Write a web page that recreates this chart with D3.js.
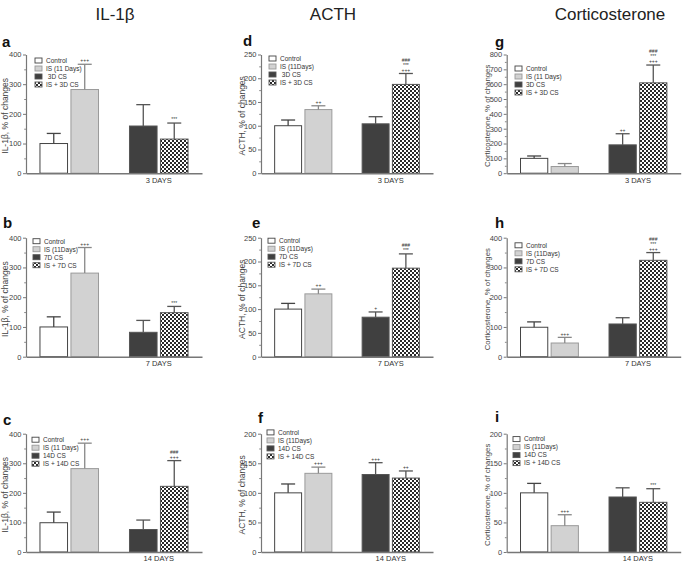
<!DOCTYPE html>
<html><head><meta charset="utf-8">
<script src="https://cdn.jsdelivr.net/npm/d3@7"></script>
<style>body{margin:0;background:#fff}svg{display:block;font-family:"Liberation Sans",Arial,sans-serif}</style>
</head><body><svg id="chart" width="684" height="562"></svg>
<script>
// ---------- DATA ----------
const columnTitles = ["IL-1β", "ACTH", "Corticosterone"];
const yAxisLabels = ["IL-1β, % of changes", "ACTH, % of changes", "Corticosterone, % of changes"];
const panelLetters = [["a", "b", "c"], ["d", "e", "f"], ["g", "h", "i"]];
const dayLabels = ["3 DAYS", "7 DAYS", "14 DAYS"];
const groups = ["Control", "IS", "CS", "IS+CS"];
const yMax = [[400, 400, 400], [250, 250, 200], [800, 400, 200]];
const yStep = [[100, 100, 100], [50, 50, 50], [100, 100, 50]];

const il1bMeans = [[100, 282, 159, 115], [100, 281, 82, 148], [99, 282, 76, 222]];
const il1bErrors = [[34, 85, 72, 54], [34, 86, 40, 21], [36, 86, 32, 87]];
const acthMeans = [[100, 134, 104, 187], [100, 132, 83, 186], [100, 133, 131, 125]];
const acthErrors = [[12, 8, 15, 23], [12, 10, 11, 30], [15, 10.5, 20, 12]];
const corticoMeans = [[100, 45, 191, 609], [99, 46, 110, 324], [100, 44.5, 93, 84]];
const corticoErrors = [[16, 20, 75, 120], [18, 19, 21, 26], [16, 18.5, 15.5, 23]];

const il1bLegend = [
  ["Control", "IS (11 Days)", " 3D CS", "IS + 3D CS"],
  ["Control", "IS (11Days)", "7D CS", "IS + 7D CS"],
  ["Control", "IS (11 Days)", "14D CS", "IS + 14D CS"]];
const acthLegend = [
  ["Control", "IS (11Days)", " 3D CS", "IS + 3D CS"],
  ["Control", "IS (11Days)", "7D CS", "IS + 7D CS"],
  ["Control", "IS (11Days)", "14D CS", "IS + 14D CS"]];
const corticoLegend = [
  ["Control", "IS (11 Days)", "3D CS", "IS + 3D CS"],
  ["Control", "IS (11Days)", "7D CS", "IS + 7D CS"],
  ["Control", "IS (11Days)", "14D CS", "IS + 14D CS"]];

const il1bMarks = [
  [[], ["+++"], [], ["***"]],
  [[], ["+++"], [], ["***"]],
  [[], ["+++"], [], ["###", "+++"]]];
const acthMarks = [
  [[], ["++"], [], ["###", "***", "+++"]],
  [[], ["++"], ["+"], ["###", "***"]],
  [[], ["+++"], ["+++"], ["++"]]];
const corticoMarks = [
  [[], [], ["++"], ["###", "***", "+++"]],
  [[], ["+++"], [], ["###", "***", "+++"]],
  [[], ["+++"], [], ["***"]]];

const means = [il1bMeans, acthMeans, corticoMeans];
const errors = [il1bErrors, acthErrors, corticoErrors];
const legends = [il1bLegend, acthLegend, corticoLegend];
const marks = [il1bMarks, acthMarks, corticoMarks];

// ---------- LAYOUT ----------
const colAxisX = [26, 261, 506.7];
const plotW = [176, 172, 174];
const titleX = [115, 333, 610];
const yLabelX = [8, 245, 490];
const yLabelSize = [8.5, 8.5, 7.8];
const rowTop = [54.5, 237.7, 433.7];
const rowBottom = [173.2, 356.7, 552];
const letterPos = [
  [[2, 47], [3, 228], [3, 425]],
  [[243, 46], [252, 228], [258, 423]],
  [[495, 47], [495, 228], [495, 422]]];
const legendOff = [
  [[9, 6], [7, 3.5], [6, 6]],
  [[8, 4], [7, 3], [6, -1.3]],
  [[8.3, 14], [8.3, 7.6], [6.3, 5.4]]];

const svg = d3.select("#chart");
const defs = svg.append("defs");
const pat = defs.append("pattern").attr("id", "checker").attr("patternUnits", "userSpaceOnUse")
  .attr("width", 4).attr("height", 4);
pat.append("rect").attr("width", 4).attr("height", 4).attr("fill", "#fff");
pat.append("rect").attr("width", 2).attr("height", 2).attr("fill", "#2a2a2a");
pat.append("rect").attr("x", 2).attr("y", 2).attr("width", 2).attr("height", 2).attr("fill", "#2a2a2a");

const fills = ["#ffffff", "#d2d2d2", "#404040", "url(#checker)"];
const strokes = ["#444", "#9a9a9a", "#555", "#555"];
const errStroke = ["#444", "#888", "#555", "#555"];

columnTitles.forEach((t, c) => {
  svg.append("text").attr("x", titleX[c]).attr("y", 20).attr("text-anchor", "middle")
    .attr("font-size", 17).attr("fill", "#222").text(t);
});

for (let c = 0; c < 3; c++) {
  for (let r = 0; r < 3; r++) {
    const ox = colAxisX[c], top = rowTop[r], bottom = rowBottom[r], w = plotW[c];
    const g = svg.append("g");
    const y = d3.scaleLinear().domain([0, yMax[c][r]]).range([bottom, top]);
    const xg = d3.scaleBand().domain([0, 1]).range([ox, ox + w]).paddingInner(0.346).paddingOuter(0.156);
    const xi = d3.scaleBand().domain([0, 1]).range([0, xg.bandwidth()]).paddingInner(0.11);
    const bx = i => xg(i < 2 ? 0 : 1) + xi(i % 2);
    const bw = xi.bandwidth();

    g.append("text").attr("x", letterPos[c][r][0]).attr("y", letterPos[c][r][1])
      .attr("font-size", 15).attr("font-weight", "bold").attr("fill", "#111").text(panelLetters[c][r]);

    g.append("text").attr("transform", `translate(${yLabelX[c]},${(top + bottom) / 2 + 2}) rotate(-90)`)
      .attr("text-anchor", "middle").attr("font-size", yLabelSize[c]).attr("fill", "#444").text(yAxisLabels[c]);

    const vals = means[c][r], errs = errors[c][r];
    g.selectAll(".bar").data(vals).join("rect")
      .attr("x", (d, i) => bx(i)).attr("width", bw)
      .attr("y", d => y(d)).attr("height", d => bottom - y(d))
      .attr("fill", (d, i) => fills[i]).attr("stroke", (d, i) => strokes[i]).attr("stroke-width", 1);
    vals.forEach((m, i) => {
      const cx = bx(i) + bw / 2, yt = y(m + errs[i]);
      g.append("line").attr("x1", cx).attr("x2", cx).attr("y1", y(m)).attr("y2", yt)
        .attr("stroke", errStroke[i]).attr("stroke-width", 1.3);
      g.append("line").attr("x1", cx - 7).attr("x2", cx + 7).attr("y1", yt).attr("y2", yt)
        .attr("stroke", errStroke[i]).attr("stroke-width", 1.3);
      const mk = marks[c][r][i];
      mk.slice().reverse().forEach((s, k) => {
        g.append("text").attr("x", cx).attr("y", yt - 1.8 - k * 5).attr("text-anchor", "middle")
          .attr("font-size", 5).attr("fill", "#333").text(s);
      });
    });

    const ticks = d3.range(0, yMax[c][r] + 0.001, yStep[c][r]);
    const ya = g.append("g").attr("transform", `translate(${ox},0)`)
      .call(d3.axisLeft(y).tickValues(ticks).tickSize(3).tickSizeOuter(0).tickPadding(1.5));
    ya.select(".domain").attr("stroke", "#777").attr("stroke-width", 1.2);
    ya.selectAll(".tick line").attr("stroke", "#777");
    ya.selectAll(".tick text").attr("font-size", 7.5).attr("fill", "#444")
      .attr("font-family", "Liberation Sans, Arial, sans-serif");
    const minor = d3.range(yStep[c][r] / 2, yMax[c][r], yStep[c][r]);
    const ym = g.append("g").attr("transform", `translate(${ox},0)`)
      .call(d3.axisLeft(y).tickValues(minor).tickSize(1.8).tickFormat(""));
    ym.select(".domain").remove();
    ym.selectAll(".tick line").attr("stroke", "#888");

    const xa = g.append("g").attr("transform", `translate(0,${bottom})`)
      .call(d3.axisBottom(xg).tickSize(0).tickSizeOuter(0).tickPadding(4)
        .tickFormat(d => d === 1 ? dayLabels[r] : ""));
    xa.select(".domain").attr("stroke", "#777").attr("stroke-width", 1.4);
    xa.selectAll(".tick text").attr("font-size", 7.5).attr("fill", "#333")
      .attr("font-family", "Liberation Sans, Arial, sans-serif");

    const lx = ox + legendOff[c][r][0], ly0 = top + legendOff[c][r][1];
    legends[c][r].forEach((lab, i) => {
      const ly = ly0 + i * 8;
      g.append("rect").attr("x", lx).attr("y", ly - 2.5).attr("width", 7).attr("height", 5)
        .attr("fill", fills[i]).attr("stroke", strokes[i]).attr("stroke-width", 0.9);
      g.append("text").attr("x", lx + 11).attr("y", ly + 2.3).attr("font-size", 6.5)
        .attr("fill", "#333").style("white-space", "pre").text(lab);
    });
  }
}
</script></body></html>
